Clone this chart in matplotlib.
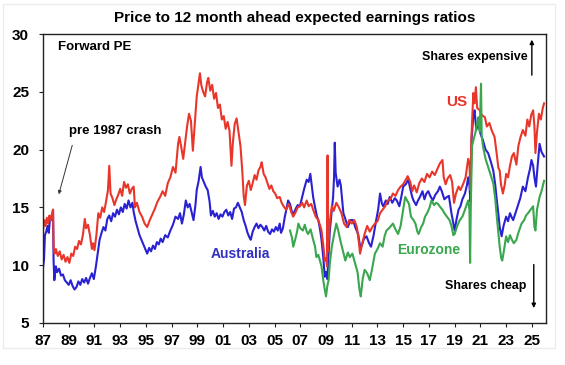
import matplotlib
matplotlib.use('Agg')
import matplotlib.pyplot as plt
from matplotlib.patches import Rectangle

plt.rcParams['font.family'] = ['Liberation Sans', 'DejaVu Sans']
plt.rcParams['font.weight'] = 'bold'

# Forward PE (decimal years, ratio)
us_years = [1987.00, 1987.10, 1987.20, 1987.30, 1987.40, 1987.50, 1987.60, 1987.70, 1987.78, 1987.83,
            1987.90, 1988.00, 1988.15, 1988.30, 1988.45, 1988.60, 1988.75, 1988.90, 1989.05, 1989.20,
            1989.35, 1989.50, 1989.65, 1989.80, 1989.95, 1990.10, 1990.25, 1990.35, 1990.50, 1990.65,
            1990.80, 1990.90, 1991.00, 1991.15, 1991.30, 1991.45, 1991.60, 1991.75, 1991.90, 1992.05,
            1992.15, 1992.25, 1992.40, 1992.55, 1992.70, 1992.85, 1993.00, 1993.15, 1993.30, 1993.45,
            1993.60, 1993.75, 1993.90, 1994.05, 1994.15, 1994.30, 1994.50, 1994.70, 1994.90, 1995.10,
            1995.30, 1995.50, 1995.70, 1995.90, 1996.10, 1996.30, 1996.50, 1996.70, 1996.90, 1997.10,
            1997.30, 1997.50, 1997.60, 1997.75, 1997.90, 1998.05, 1998.20, 1998.35, 1998.50, 1998.65,
            1998.80, 1998.95, 1999.10, 1999.20, 1999.30, 1999.45, 1999.60, 1999.75, 1999.85, 2000.00,
            2000.15, 2000.30, 2000.45, 2000.60, 2000.75, 2000.90, 2001.05, 2001.20, 2001.35, 2001.50,
            2001.65, 2001.75, 2001.90, 2002.05, 2002.20, 2002.35, 2002.50, 2002.60, 2002.70, 2002.85,
            2003.00, 2003.15, 2003.30, 2003.45, 2003.60, 2003.75, 2003.90, 2004.00, 2004.15, 2004.30,
            2004.45, 2004.60, 2004.75, 2004.90, 2005.05, 2005.20, 2005.40, 2005.55, 2005.70, 2005.90,
            2006.10, 2006.30, 2006.45, 2006.60, 2006.80, 2006.97, 2007.15, 2007.30, 2007.50, 2007.65,
            2007.85, 2008.00, 2008.20, 2008.40, 2008.55, 2008.65, 2008.80, 2008.90, 2009.00, 2009.08,
            2009.12, 2009.15, 2009.30, 2009.45, 2009.60, 2009.80, 2010.00, 2010.20, 2010.40, 2010.60,
            2010.80, 2011.00, 2011.20, 2011.40, 2011.55, 2011.65, 2011.80, 2012.00, 2012.20, 2012.40,
            2012.60, 2012.80, 2013.00, 2013.20, 2013.40, 2013.60, 2013.80, 2014.00, 2014.20, 2014.40,
            2014.60, 2014.80, 2015.00, 2015.20, 2015.35, 2015.55, 2015.70, 2015.85, 2016.05, 2016.25,
            2016.45, 2016.65, 2016.85, 2017.05, 2017.25, 2017.45, 2017.65, 2017.85, 2018.05, 2018.15,
            2018.30, 2018.45, 2018.65, 2018.80, 2018.95, 2019.10, 2019.30, 2019.45, 2019.65, 2019.85,
            2020.05, 2020.15, 2020.22, 2020.30, 2020.45, 2020.55, 2020.65, 2020.75, 2020.95, 2021.10,
            2021.35, 2021.50, 2021.70, 2021.90, 2022.10, 2022.25, 2022.40, 2022.50, 2022.60, 2022.75,
            2022.90, 2023.00, 2023.15, 2023.30, 2023.45, 2023.60, 2023.80, 2023.95, 2024.10, 2024.30,
            2024.50, 2024.65, 2024.80, 2024.95, 2025.10, 2025.20, 2025.28, 2025.40, 2025.55, 2025.70,
            2025.85, 2025.95]
us_pe = [13.0, 13.9, 13.4, 14.1, 13.6, 14.3, 13.9, 14.4, 14.8, 11.5,
         11.0, 11.4, 10.8, 11.2, 10.5, 10.9, 10.3, 10.7, 10.2, 11.0,
         10.8, 11.6, 11.4, 12.1, 11.8, 12.6, 14.0, 13.2, 13.5, 12.6,
         11.4, 11.9, 11.3, 12.6, 14.5, 14.1, 15.0, 14.6, 15.5, 16.5,
         18.6, 16.2, 15.8, 15.2, 15.7, 16.1, 16.6, 16.0, 17.2, 16.7,
         17.0, 16.2, 16.6, 16.8, 15.0, 15.4, 14.6, 14.2, 13.6, 13.3,
         13.9, 14.4, 14.9, 15.5, 15.9, 16.4, 16.0, 17.1, 17.6, 18.5,
         18.0, 20.5, 21.1, 20.2, 19.2, 20.6, 22.0, 23.1, 22.5, 19.9,
         22.3, 24.6, 25.8, 26.6, 25.6, 25.0, 24.6, 25.8, 26.2, 25.1,
         25.6, 24.4, 24.9, 23.6, 23.9, 22.6, 22.9, 21.8, 22.4, 21.6,
         18.6, 20.5, 22.2, 22.7, 21.5, 20.3, 18.0, 16.0, 15.2, 16.9,
         17.3, 16.5, 17.1, 17.8, 17.4, 18.2, 18.5, 18.9, 17.9, 17.6,
         17.1, 16.6, 16.9, 16.4, 16.2, 15.8, 15.9, 15.4, 15.1, 14.8,
         15.3, 14.6, 14.2, 14.5, 15.0, 15.1, 15.4, 15.0, 15.6, 15.1,
         15.3, 14.8, 14.2, 13.9, 13.4, 13.0, 11.6, 10.4, 10.6, 9.9,
         19.5, 11.2, 13.8, 15.1, 14.7, 15.4, 15.0, 14.5, 13.6, 13.3,
         13.9, 13.6, 13.9, 13.3, 12.0, 11.0, 11.8, 12.7, 13.4, 12.9,
         13.3, 13.6, 13.8, 14.5, 14.8, 15.1, 15.6, 15.7, 16.2, 16.0,
         16.5, 16.8, 17.0, 17.4, 17.7, 17.2, 16.4, 16.9, 16.3, 17.1,
         17.5, 17.2, 17.9, 17.6, 18.1, 17.8, 18.3, 18.8, 19.1, 17.6,
         17.0, 17.5, 17.8, 17.2, 15.4, 16.2, 16.8, 16.5, 17.0, 17.6,
         19.2, 18.8, 16.5, 21.0, 24.9, 24.0, 25.4, 23.6, 23.4, 23.0,
         22.8, 22.0, 22.3, 21.6, 21.1, 19.8, 18.4, 18.2, 17.0, 16.2,
         17.0, 17.9, 17.6, 18.6, 19.4, 19.7, 18.7, 20.3, 21.0, 21.7,
         21.2, 22.6, 22.0, 23.0, 23.4, 22.0, 19.7, 21.5, 23.1, 22.6,
         23.6, 24.0]

aus_years = [1987.00, 1987.08, 1987.15, 1987.25, 1987.35, 1987.45, 1987.55, 1987.65, 1987.78, 1987.82,
             1987.88, 1988.00, 1988.10, 1988.25, 1988.40, 1988.55, 1988.70, 1988.85, 1989.00, 1989.15,
             1989.30, 1989.45, 1989.60, 1989.75, 1989.90, 1990.05, 1990.20, 1990.35, 1990.50, 1990.65,
             1990.80, 1990.95, 1991.10, 1991.25, 1991.40, 1991.55, 1991.70, 1991.85, 1992.00, 1992.15,
             1992.30, 1992.45, 1992.60, 1992.75, 1992.90, 1993.05, 1993.20, 1993.35, 1993.50, 1993.65,
             1993.80, 1993.95, 1994.05, 1994.20, 1994.35, 1994.50, 1994.65, 1994.80, 1994.95, 1995.10,
             1995.25, 1995.40, 1995.55, 1995.70, 1995.85, 1996.00, 1996.15, 1996.30, 1996.50, 1996.70,
             1996.90, 1997.10, 1997.30, 1997.50, 1997.65, 1997.80, 1997.95, 1998.10, 1998.25, 1998.40,
             1998.55, 1998.70, 1998.85, 1998.95, 1999.10, 1999.25, 1999.35, 1999.50, 1999.65, 1999.80,
             1999.95, 2000.05, 2000.20, 2000.35, 2000.50, 2000.65, 2000.80, 2000.95, 2001.10, 2001.25,
             2001.40, 2001.55, 2001.70, 2001.85, 2002.00, 2002.15, 2002.30, 2002.45, 2002.60, 2002.75,
             2002.90, 2003.05, 2003.15, 2003.30, 2003.45, 2003.60, 2003.75, 2003.90, 2004.05, 2004.20,
             2004.35, 2004.50, 2004.65, 2004.80, 2004.95, 2005.10, 2005.25, 2005.40, 2005.50, 2005.65,
             2005.80, 2005.95, 2006.05, 2006.20, 2006.35, 2006.50, 2006.65, 2006.80, 2006.97, 2007.15,
             2007.30, 2007.50, 2007.65, 2007.78, 2007.90, 2008.00, 2008.15, 2008.30, 2008.40, 2008.55,
             2008.65, 2008.80, 2008.90, 2009.00, 2009.10, 2009.20, 2009.30, 2009.45, 2009.55, 2009.62,
             2009.68, 2009.75, 2009.90, 2010.05, 2010.15, 2010.35, 2010.50, 2010.70, 2010.90, 2011.10,
             2011.30, 2011.50, 2011.65, 2011.75, 2011.95, 2012.15, 2012.35, 2012.50, 2012.70, 2012.90,
             2013.05, 2013.20, 2013.35, 2013.45, 2013.65, 2013.80, 2013.95, 2014.15, 2014.35, 2014.50,
             2014.70, 2014.85, 2015.00, 2015.20, 2015.40, 2015.55, 2015.70, 2015.80, 2016.00, 2016.15,
             2016.30, 2016.50, 2016.65, 2016.80, 2016.95, 2017.10, 2017.30, 2017.50, 2017.70, 2017.85,
             2018.00, 2018.20, 2018.40, 2018.55, 2018.75, 2018.90, 2019.00, 2019.15, 2019.30, 2019.45,
             2019.60, 2019.80, 2019.95, 2020.05, 2020.15, 2020.22, 2020.32, 2020.45, 2020.55, 2020.68,
             2020.85, 2021.00, 2021.20, 2021.40, 2021.60, 2021.80, 2022.00, 2022.15, 2022.25, 2022.40,
             2022.50, 2022.65, 2022.80, 2023.00, 2023.15, 2023.30, 2023.45, 2023.55, 2023.75, 2023.90,
             2024.10, 2024.30, 2024.50, 2024.70, 2024.85, 2024.97, 2025.10, 2025.20, 2025.32, 2025.45,
             2025.60, 2025.75, 2025.95]
aus_pe = [9.8, 10.5, 12.6, 12.9, 13.4, 12.8, 14.1, 13.9, 14.8, 10.5,
          8.7, 9.9, 9.4, 9.7, 9.1, 9.2, 8.7, 8.5, 8.3, 8.7,
          8.2, 7.9, 8.1, 8.6, 8.3, 8.8, 8.5, 8.9, 8.4, 8.9,
          9.3, 8.8, 9.8, 11.0, 12.2, 12.8, 13.3, 13.0, 14.0, 14.3,
          13.8, 14.5, 14.2, 14.8, 14.4, 15.0, 14.6, 15.3, 14.9, 15.6,
          15.0, 15.4, 14.6, 13.8, 13.2, 12.6, 12.2, 11.8, 11.4, 11.0,
          11.5, 11.2, 11.7, 11.4, 12.0, 11.8, 12.3, 12.0, 12.6, 12.4,
          13.0, 13.5, 14.2, 14.0, 14.5, 13.6, 14.4, 15.6, 15.0, 15.3,
          14.6, 13.9, 15.2, 16.5, 17.3, 18.5, 17.6, 17.2, 16.8, 16.5,
          15.5, 14.3, 14.7, 14.2, 14.5, 14.0, 14.4, 14.2, 14.6, 14.8,
          14.3, 14.6, 14.0, 14.9, 15.0, 15.4, 15.0, 14.6, 13.9, 13.4,
          12.8, 12.4, 12.2, 12.9, 13.3, 13.6, 13.2, 13.5, 13.3, 13.0,
          13.4, 12.9, 12.7, 13.1, 12.9, 13.3, 13.0, 13.6, 12.8, 13.2,
          14.2, 15.0, 15.6, 15.3, 14.6, 14.5, 14.9, 15.2, 15.1, 15.9,
          16.6, 17.4, 17.2, 17.9, 16.8, 15.9, 15.0, 14.2, 13.9, 13.0,
          12.2, 10.5, 9.0, 9.4, 8.8, 11.0, 13.0, 14.8, 15.9, 17.5,
          20.6, 18.0, 16.8, 17.4, 16.9, 14.5, 14.0, 13.3, 13.9, 13.9,
          13.2, 12.7, 11.6, 11.6, 12.3, 12.5, 11.9, 11.6, 12.6, 13.9,
          14.8, 16.2, 15.3, 15.1, 15.6, 15.3, 15.9, 15.4, 15.8, 15.6,
          15.1, 15.9, 16.8, 17.0, 17.4, 16.6, 15.9, 15.6, 15.2, 15.6,
          15.9, 16.4, 15.7, 16.2, 16.4, 16.0, 15.6, 16.1, 16.4, 16.8,
          16.4, 15.7, 15.9, 16.0, 14.5, 13.6, 13.0, 14.0, 14.8, 15.1,
          15.7, 16.2, 16.9, 17.6, 16.9, 15.5, 21.0, 22.9, 23.4, 21.7,
          22.3, 21.4, 20.8, 20.0, 19.7, 19.0, 18.2, 17.0, 15.9, 14.4,
          13.3, 12.5, 13.4, 14.2, 13.8, 14.5, 14.1, 13.9, 14.6, 15.1,
          15.8, 16.8, 16.4, 17.6, 18.3, 19.1, 18.6, 17.6, 16.8, 18.6,
          20.5, 19.8, 19.4]

ez_years = [2006.20, 2006.35, 2006.45, 2006.60, 2006.75, 2006.85, 2007.00, 2007.20, 2007.35, 2007.50,
            2007.60, 2007.80, 2008.00, 2008.15, 2008.25, 2008.40, 2008.55, 2008.65, 2008.80, 2008.90,
            2009.00, 2009.10, 2009.20, 2009.30, 2009.45, 2009.60, 2009.80, 2009.95, 2010.10, 2010.30,
            2010.50, 2010.70, 2010.85, 2011.05, 2011.25, 2011.45, 2011.60, 2011.70, 2011.85, 2012.00,
            2012.20, 2012.40, 2012.55, 2012.80, 2013.00, 2013.20, 2013.40, 2013.55, 2013.70, 2013.90,
            2014.05, 2014.20, 2014.40, 2014.60, 2014.80, 2015.00, 2015.15, 2015.30, 2015.45, 2015.60,
            2015.80, 2015.95, 2016.10, 2016.20, 2016.40, 2016.55, 2016.70, 2016.90, 2017.05, 2017.20,
            2017.40, 2017.55, 2017.70, 2017.90, 2018.05, 2018.20, 2018.40, 2018.60, 2018.75, 2018.90,
            2019.00, 2019.20, 2019.40, 2019.60, 2019.80, 2019.95, 2020.05, 2020.15, 2020.20, 2020.25,
            2020.35, 2020.50, 2020.60, 2020.75, 2020.85, 2020.95, 2021.05, 2021.10, 2021.20, 2021.40,
            2021.60, 2021.80, 2022.00, 2022.15, 2022.25, 2022.40, 2022.50, 2022.62, 2022.70, 2022.85,
            2023.00, 2023.15, 2023.30, 2023.45, 2023.60, 2023.80, 2023.95, 2024.20, 2024.40, 2024.55,
            2024.70, 2024.90, 2025.10, 2025.20, 2025.28, 2025.40, 2025.60, 2025.75, 2025.95]
ez_pe = [13.0, 12.4, 11.6, 12.2, 12.9, 13.6, 13.2, 13.0, 13.5, 12.9,
         12.7, 13.1, 12.2, 11.6, 10.7, 10.9, 10.3, 9.9, 8.6, 7.9,
         7.3, 8.2, 8.7, 10.2, 11.6, 12.5, 13.6, 13.0, 12.2, 11.3,
         10.4, 11.1, 10.7, 11.0, 10.2, 9.4, 7.9, 7.3, 8.8, 9.6,
         9.3, 8.7, 9.5, 11.0, 11.4, 11.9, 11.6, 12.5, 13.0, 13.2,
         13.4, 13.6, 13.1, 12.7, 13.4, 14.8, 15.9, 15.6, 15.3, 14.2,
         13.9, 13.6, 12.9, 12.7, 13.3, 13.6, 14.2, 14.6, 15.0, 15.6,
         15.2, 15.4, 15.3, 15.0, 14.8, 14.5, 14.2, 13.9, 13.4, 12.6,
         12.7, 13.4, 13.9, 14.2, 14.8, 15.3, 15.6, 14.8, 10.2, 14.8,
         20.3, 21.0, 21.4, 22.3, 22.8, 21.6, 25.7, 21.2, 20.3, 19.2,
         18.5, 17.8, 17.1, 15.8, 14.5, 12.7, 11.6, 10.6, 10.4, 11.4,
         12.5, 12.0, 12.6, 12.2, 11.9, 12.2, 12.8, 13.6, 13.9, 14.3,
         14.5, 14.8, 15.1, 13.3, 13.0, 14.8, 15.9, 16.4, 17.3]

tick_years = list(range(1987, 2026, 2))
tick_labels = ['%02d' % (y % 100) for y in tick_years]

red = '#e8362b'
blue = '#2a22d2'
green = '#3aa64e'

fig = plt.figure(figsize=(5.65, 3.65), dpi=100)
ax = fig.add_axes([43 / 565, 42 / 365, 503 / 565, 289 / 365])

ax.plot(aus_years, aus_pe, color=blue, lw=1.5)
ax.plot(us_years, us_pe, color=red, lw=1.5)
ax.plot(ez_years, ez_pe, color=green, lw=1.5)

ax.set_xlim(1987.0, 2026.1)
ax.set_ylim(5, 30)
ax.set_yticks([5, 10, 15, 20, 25, 30])
ax.set_xticks(tick_years)
ax.set_xticklabels(tick_labels)
ax.tick_params(axis='both', direction='out', labelsize=11, color='#222222')
ax.tick_params(axis='y', length=3, pad=7)
ax.tick_params(axis='x', length=3, pad=5)
for lab in ax.get_xticklabels() + ax.get_yticklabels():
    lab.set_fontweight('bold')
for s in ax.spines.values():
    s.set_linewidth(1.0)
    s.set_color('#222222')

# title and labels
fig.text(295 / 565, 1 - 18 / 365, 'Price to 12 month ahead expected earnings ratios',
         ha='center', va='center', fontsize=11, fontweight='bold')
ax.text(1988.15, 28.9, 'Forward PE', fontsize=9.5, fontweight='bold', va='center')
ax.text(2024.7, 28.0, 'Shares expensive', fontsize=9, fontweight='bold', ha='right', va='center')
ax.text(2024.6, 8.2, 'Shares cheap', fontsize=9, fontweight='bold', ha='right', va='center')
ax.text(2018.3, 24.1, 'US', color=red, fontsize=11, fontweight='bold', va='center')
ax.text(2014.5, 11.3, 'Eurozone', color=green, fontsize=10, fontweight='bold', va='center')
ax.text(2000.05, 11.0, 'Australia', color='#3030c0', fontsize=10, fontweight='bold', va='center')
ax.text(1989.0, 21.6, 'pre 1987 crash', fontsize=9.5, fontweight='bold', va='center')

ax.annotate('', xy=(1988.17, 15.9), xytext=(1989.33, 20.6),
            arrowprops=dict(arrowstyle='-|>', lw=0.7, color='#333333', mutation_scale=5))
ax.annotate('', xy=(2025.0, 29.75), xytext=(2025.0, 26.2),
            arrowprops=dict(arrowstyle='-|>', lw=1.0, color='black', mutation_scale=6))
ax.annotate('', xy=(2025.15, 6.05), xytext=(2025.15, 10.3),
            arrowprops=dict(arrowstyle='-|>', lw=1.0, color='black', mutation_scale=6))

# faint outer border of the screenshot
fig.patches.append(Rectangle((3 / 565, 17 / 365), 552 / 565, 344 / 365, transform=fig.transFigure,
                             fill=False, edgecolor='#ececec', lw=1))

fig.savefig('out.png', dpi=100)
